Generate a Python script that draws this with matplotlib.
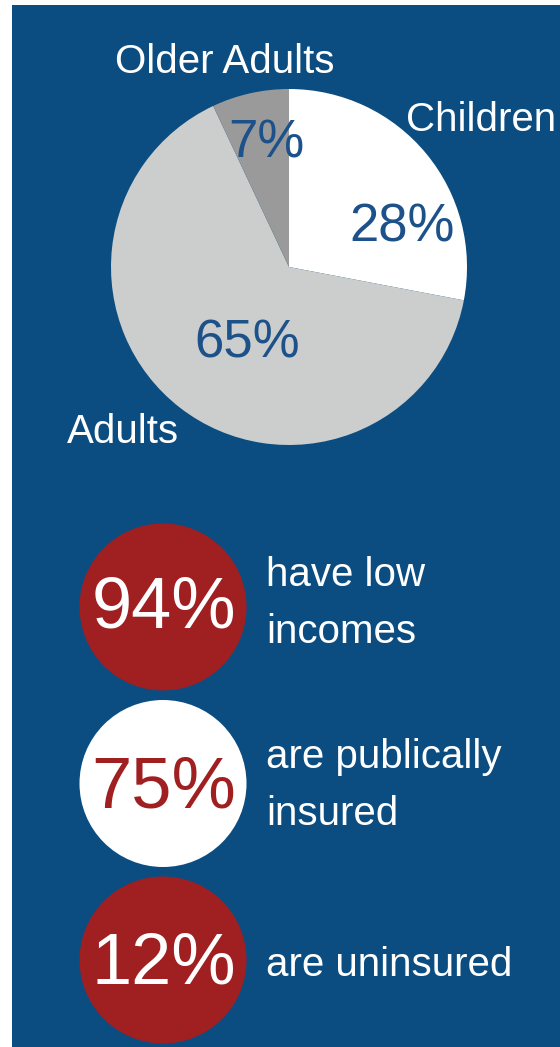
import matplotlib
matplotlib.use("Agg")
import matplotlib.pyplot as plt
from matplotlib.patches import Rectangle, Circle

# ---- data ----
pie_categories = ["Children", "Adults", "Older Adults"]
pie_shares = [28, 65, 7]
stat_values = [94, 75, 12]
stat_captions = ["have low\nincomes", "are publically\ninsured", "are uninsured"]

# ---- style ----
BG = "#0b4d80"
RED = "#a01f21"
PCT_BLUE = "#1d5189"
pie_colors = ["#ffffff", "#cccdcd", "#9a9a9a"]
circle_faces = [RED, "#ffffff", RED]
circle_text = ["#ffffff", RED, "#ffffff"]

W, H = 560, 1047
plt.rcParams["font.family"] = ["Liberation Sans", "DejaVu Sans"]
fig = plt.figure(figsize=(W / 100, H / 100), dpi=100)
fig.patch.set_facecolor("white")
ax = fig.add_axes([0, 0, 1, 1])


def Y(y):
    return H - y


ax.add_patch(Rectangle((12, 0), W - 12, H - 5, facecolor=BG, edgecolor="none", zorder=0))

# pie
cx, cy, r = 289, 267, 178
ax.pie(pie_shares, colors=pie_colors, startangle=90, counterclock=False,
       center=(cx, Y(cy)), radius=r, wedgeprops=dict(linewidth=0), frame=True)

label_pos = {"Children": (406, 131, "left"), "Adults": (67, 443, "left"),
             "Older Adults": (115, 73, "left")}
pct_pos = {"Children": (402, 242), "Adults": (247, 357), "Older Adults": (266, 157)}
for cat, share in zip(pie_categories, pie_shares):
    lx, ly, ha = label_pos[cat]
    ax.text(lx, Y(ly), cat, color="white", fontsize=29, ha=ha, va="baseline", zorder=5)
    px, py = pct_pos[cat]
    ax.text(px, Y(py), f"{share}%", color=PCT_BLUE, fontsize=38, ha="center",
            va="baseline", zorder=5)

# stat circles
centers = [607, 783.5, 960]
num_base = [628, 808, 984]
cap_base = [586, 768, 976]
for val, cap, c_y, nb, cb, fc, tc in zip(stat_values, stat_captions, centers, num_base,
                                         cap_base, circle_faces, circle_text):
    ax.add_patch(Circle((163, Y(c_y)), 83.5, facecolor=fc, edgecolor="none", zorder=3))
    ax.text(164, Y(nb), f"{val}%", color=tc, fontsize=52, ha="center", va="baseline", zorder=5)
    lines = cap.split("\n")
    for i, line in enumerate(lines):
        ax.text(266, Y(cb + i * 57), line, color="white", fontsize=29, ha="left",
                va="baseline", zorder=5)

ax.set_xlim(0, W)
ax.set_ylim(0, H)
ax.set_aspect("auto")
ax.axis("off")
fig.savefig("out.png", dpi=100, facecolor=fig.get_facecolor())
